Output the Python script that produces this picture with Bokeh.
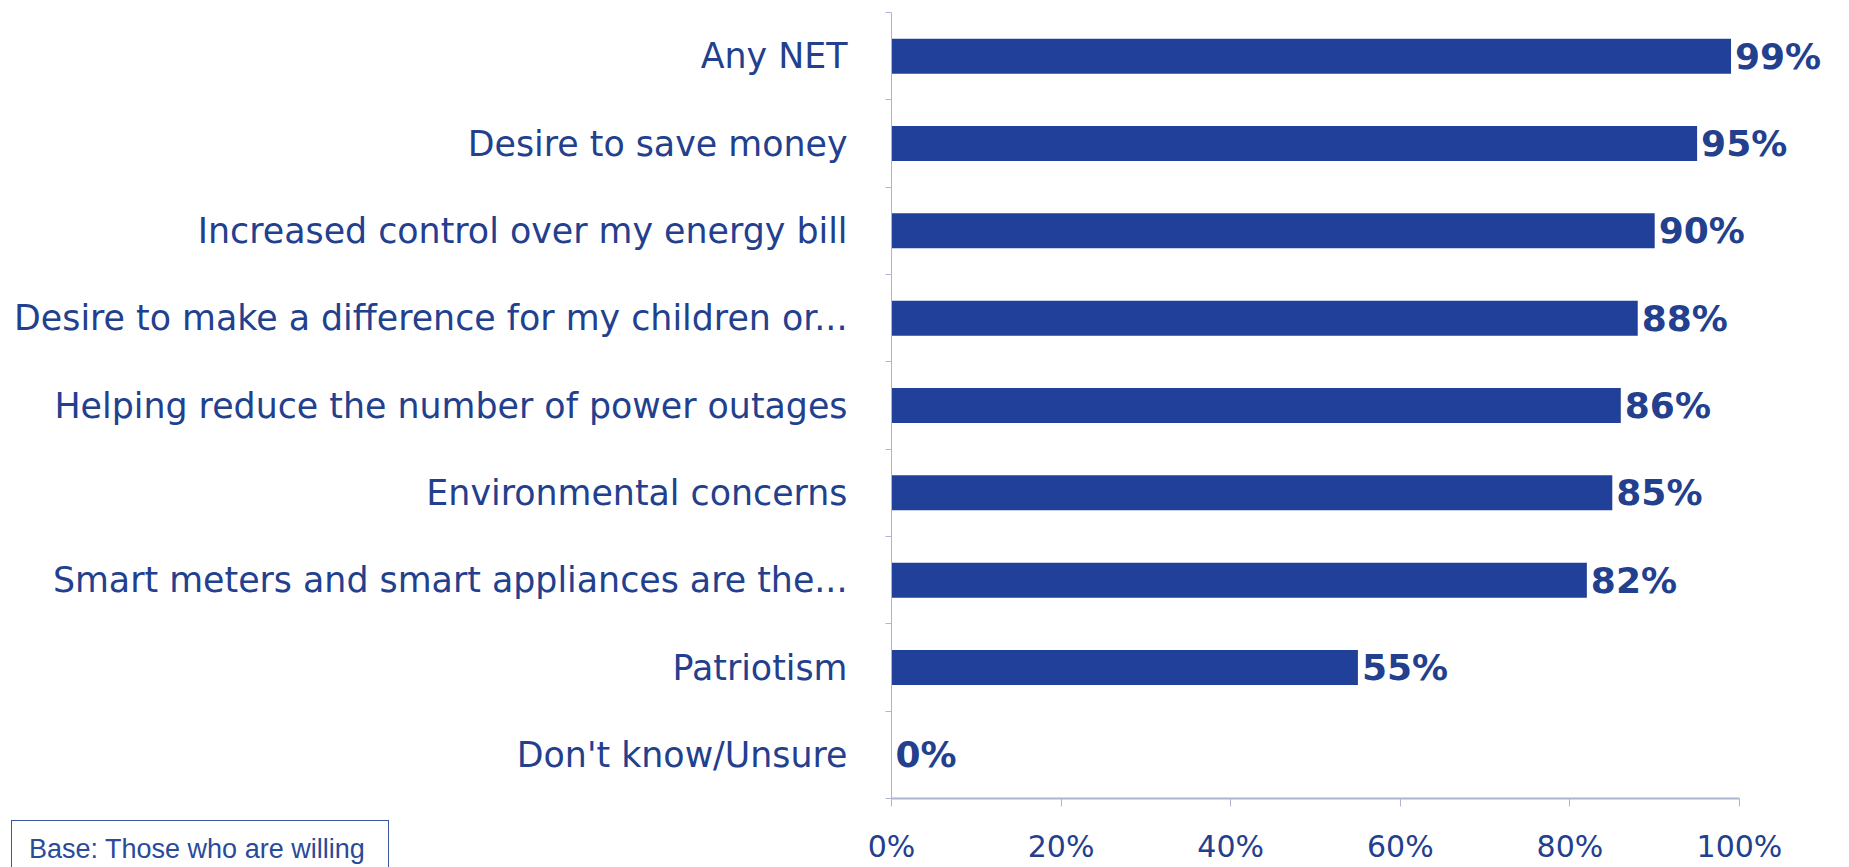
from bokeh.plotting import figure
from bokeh.models import Range1d, FixedTicker, ColumnDataSource, Div
from bokeh.layouts import column
from bokeh.core.properties import value
from bokeh.embed import file_html
from bokeh.resources import INLINE

categories = [
    "Any NET",
    "Desire to save money",
    "Increased control over my energy bill",
    "Desire to make a difference for my children or...",
    "Helping reduce the number of power outages",
    "Environmental concerns",
    "Smart meters and smart appliances are the...",
    "Patriotism",
    "Don't know/Unsure",
]
values = [99, 95, 90, 88, 86, 85, 82, 55, 0]
x_ticks = [0, 20, 40, 60, 80, 100]
x_tick_labels = ["0%", "20%", "40%", "60%", "80%", "100%"]
base_note = "Base: Those who are willing"

n = len(categories)
ypos = [n - i - 0.5 for i in range(n)]
labels = [f"{v}%" for v in values]

BLUE = "#21409A"
TEXT = "#22408E"
AXIS = "#AEB6CF"
FONT = "DejaVu Sans"

src = ColumnDataSource(dict(y=ypos, v=values, lab=labels, cat=categories))

p = figure(width=1849, height=867, output_backend="svg", toolbar_location=None,
           x_range=Range1d(0, 112.5), y_range=Range1d(0, n),
           min_border_left=891, min_border_right=4, min_border_top=12,
           min_border_bottom=69)
p.outline_line_color = None
p.background_fill_color = "white"
p.border_fill_color = "white"
p.xgrid.visible = False
p.ygrid.visible = False

p.hbar(y="y", right="v", left=0, height=0.4, source=src,
       fill_color=BLUE, line_color=None)
p.text(x="v", y="y", text="lab", source=src, x_offset=4,
       text_align="left", text_baseline="middle",
       text_font=value(FONT), text_font_size="36px", text_font_style="bold",
       text_color=TEXT)

xa = p.xaxis[0]
xa.ticker = FixedTicker(ticks=x_ticks)
xa.major_label_overrides = {t: l for t, l in zip(x_ticks, x_tick_labels)}
xa.bounds = (0, 100)
xa.axis_line_color = AXIS
xa.axis_line_width = 2
xa.major_tick_line_color = AXIS
xa.major_tick_in = 0
xa.major_tick_out = 8
xa.minor_tick_line_color = None
xa.major_label_standoff = 22
xa.major_label_text_font = FONT
xa.major_label_text_font_size = "30px"
xa.major_label_text_color = TEXT

ya = p.yaxis[0]
ya.ticker = FixedTicker(ticks=ypos, minor_ticks=list(range(n + 1)))
ya.major_label_overrides = {y: c for y, c in zip(ypos, categories)}
ya.axis_line_color = AXIS
ya.axis_line_width = 1
ya.major_tick_line_color = None
ya.major_tick_in = 0
ya.major_tick_out = 0
ya.minor_tick_line_color = AXIS
ya.minor_tick_in = 0
ya.minor_tick_out = 6
ya.major_label_standoff = 38
ya.major_label_text_font = FONT
ya.major_label_text_font_size = "34.8px"
ya.major_label_text_color = TEXT

note = Div(
    text=(
        '<div style="box-sizing:border-box;width:378px;height:60px;'
        'border:1.5px solid #3A55A0;background:white;padding:9px 0 0 17px;'
        "font-family:'Liberation Sans',Arial,sans-serif;font-size:27px;"
        'color:#2A4A9A;white-space:nowrap;">' + base_note + "</div>"
    ),
    width=378, height=0,
    styles={"position": "absolute", "left": "6px", "top": "815px",
            "z-index": "10", "overflow": "visible"},
)

layout = column(p, note, spacing=0)

open("out.html", "w").write(file_html(layout, INLINE))
